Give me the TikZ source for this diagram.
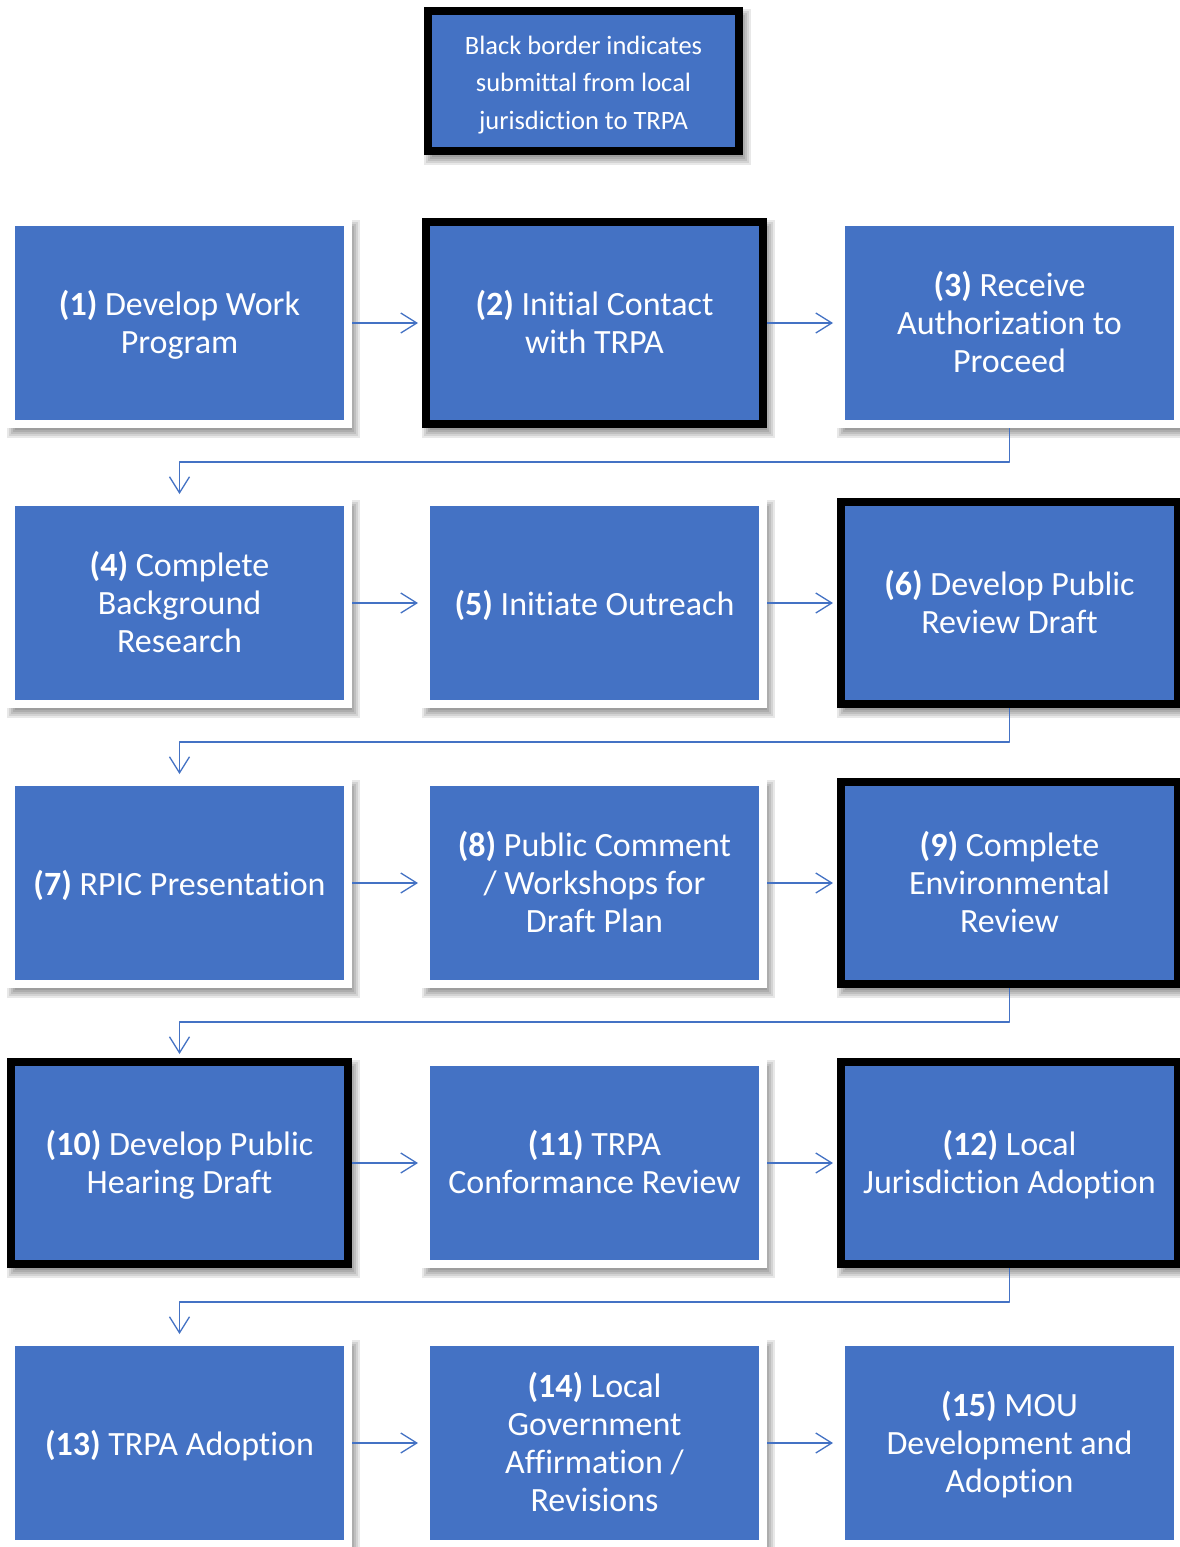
\documentclass[tikz,border=0pt]{standalone}
\usepackage{fontspec}
\setmainfont{Carlito}[Ligatures={NoCommon}]
\usetikzlibrary{arrows.meta,backgrounds}
\definecolor{boxblue}{HTML}{4472C4}
\tikzset{
  stage/.style={rectangle, minimum width=337pt, minimum height=202pt, fill=boxblue,
    draw=white, line width=8pt, inner sep=0pt},
  submit/.style={stage, draw=black},
  legendbox/.style={stage, draw=black, minimum width=311pt, minimum height=140pt},
  stagetext/.style={text=white, align=center, inner sep=0pt,
    font=\fontsize{34}{38}\selectfont,
    execute at begin node=\strut, execute at end node=\strut},
  legendtext/.style={stagetext, font=\fontsize{26.5}{37.5}\selectfont},
  conn/.style={draw=boxblue, line width=1.3pt, line join=round,
    -{Straight Barb[length=16pt,width=20pt]}, shorten >=4pt},
  shade/.style={fill=black, opacity=0.09}
}
\newcommand\dropshade[1]{%
  \foreach \d in {-4,-2,0,2,4}{%
    \pgfmathsetmacro\ax{4+\d}\pgfmathsetmacro\ay{-6-\d}%
    \pgfmathsetmacro\bx{4-\d}\pgfmathsetmacro\by{-6+\d}%
    \fill[shade] ([shift={(\ax,\ay)}]#1.north west) rectangle ([shift={(\bx,\by)}]#1.south east);}}
% #1 name, #2 style, #3 x, #4 y, #5 text
\newcommand\stagebox[5]{%
  \node[#2] (#1) at (#3,#4) {};
  \node[stagetext] (#1t) at ([yshift=-4.5pt]#1.center) {#5};}
\begin{document}
\begin{tikzpicture}[x=1pt,y=1pt]
\useasboundingbox (0,0) rectangle (1180,-1547);

\node[legendbox] (leg) at (583.5,-81) {};
\node[legendtext] (legt) at ([yshift=-7pt]leg.center) {Black border indicates\\submittal from local\\jurisdiction to TRPA};

\stagebox{n1}{stage}{179.5}{-323}{\textbf{(1)} Develop Work\\Program}
\stagebox{n2}{submit}{594.5}{-323}{\textbf{(2)} Initial Contact\\with TRPA}
\stagebox{n3}{stage}{1009.5}{-323}{\textbf{(3)} Receive\\Authorization to\\Proceed}

\stagebox{n4}{stage}{179.5}{-603}{\textbf{(4)} Complete\\Background\\Research}
\stagebox{n5}{stage}{594.5}{-603}{\textbf{(5)} Initiate Outreach}
\stagebox{n6}{submit}{1009.5}{-603}{\textbf{(6)} Develop Public\\Review Draft}

\stagebox{n7}{stage}{179.5}{-883}{\textbf{(7)} RPIC Presentation}
\stagebox{n8}{stage}{594.5}{-883}{\textbf{(8)} Public Comment\\/ Workshops for\\Draft Plan}
\stagebox{n9}{submit}{1009.5}{-883}{\textbf{(9)} Complete\\Environmental\\Review}

\stagebox{n10}{submit}{179.5}{-1163}{\textbf{(10)} Develop Public\\Hearing Draft}
\stagebox{n11}{stage}{594.5}{-1163}{\textbf{(11)} TRPA\\Conformance Review}
\stagebox{n12}{submit}{1009.5}{-1163}{\textbf{(12)} Local\\Jurisdiction Adoption}

\stagebox{n13}{stage}{179.5}{-1443}{\textbf{(13)} TRPA Adoption}
\stagebox{n14}{stage}{594.5}{-1443}{\textbf{(14)} Local\\Government\\Affirmation /\\Revisions}
\stagebox{n15}{stage}{1009.5}{-1443}{\textbf{(15)} MOU\\Development and\\Adoption}

\begin{pgfonlayer}{background}
  \fill[white] (0,0) rectangle (1180,-1547);
  \foreach \n in {leg,n1,n2,n3,n4,n5,n6,n7,n8,n9,n10,n11,n12,n13,n14,n15}{\dropshade{\n}}
\end{pgfonlayer}

\draw[conn] (n1.east) -- (n2.west);
\draw[conn] (n2.east) -- (n3.west);
\draw[conn] (n3.south) -- ++(0,-34) -| (n4.north);
\draw[conn] (n4.east) -- (n5.west);
\draw[conn] (n5.east) -- (n6.west);
\draw[conn] (n6.south) -- ++(0,-34) -| (n7.north);
\draw[conn] (n7.east) -- (n8.west);
\draw[conn] (n8.east) -- (n9.west);
\draw[conn] (n9.south) -- ++(0,-34) -| (n10.north);
\draw[conn] (n10.east) -- (n11.west);
\draw[conn] (n11.east) -- (n12.west);
\draw[conn] (n12.south) -- ++(0,-34) -| (n13.north);
\draw[conn] (n13.east) -- (n14.west);
\draw[conn] (n14.east) -- (n15.west);
\end{tikzpicture}
\end{document}
